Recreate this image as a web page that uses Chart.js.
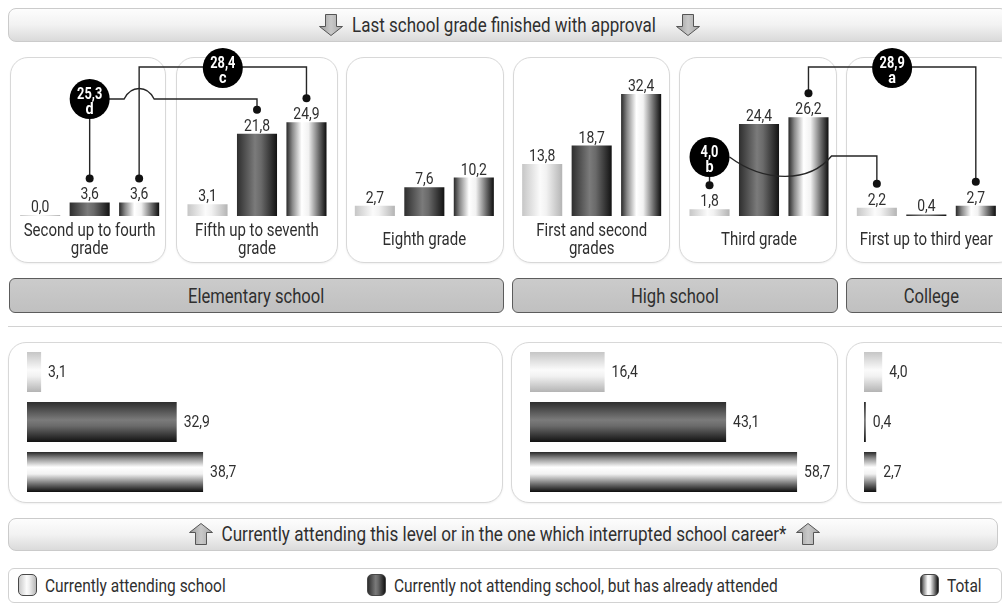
<!DOCTYPE html>
<html>
<head>
<meta charset="utf-8">
<title>Last school grade finished with approval</title>
<script src="https://cdn.jsdelivr.net/npm/chart.js@4.4.1/dist/chart.umd.min.js"></script>
<style>
  body { margin:0; width:1002px; height:616px; overflow:hidden; position:relative; background:#fff;
         font-family:Roboto,'Liberation Sans',sans-serif; color:#2f2f2f; }
  .box { position:absolute; box-sizing:border-box; }
  .banner { height:34px; border:1px solid #cbcbcb; border-radius:8px;
            background:linear-gradient(#fdfdfd,#f2f2f2 50%,#dadada); }
  .banner .arrow { position:absolute; top:5px; }
  .banner .title { position:absolute; top:0; line-height:32px; white-space:nowrap; font-size:21px;
                   transform:translateX(-50%) scaleX(.81); }
  .panel { border:1px solid #d8d8d8; border-radius:18px; background:#fff; box-shadow:0 1px 2px rgba(0,0,0,.06); }
  .band { top:278px; height:35px; border:1px solid #5c5c5c; border-radius:6px;
          background:linear-gradient(#cbcbcb,#c0c0c0);
          display:flex; align-items:center; justify-content:center; font-size:20px; }
  .band span { display:inline-block; transform:scaleX(.83); white-space:nowrap; }
  .rule { left:8px; top:326px; width:994px; height:1px; background:#d2d2d2; }
  canvas { position:absolute; }
  .arrow { width:26px; height:22px; }
  .legend { left:8px; top:568px; width:994px; height:35px; border:1px solid #d2d2d2; border-radius:6px; background:#fff; }
  .key { position:absolute; top:5px; height:22px; display:flex; align-items:center; font-size:19px; white-space:nowrap; }
  .key span { display:inline-block; transform:scaleX(.815); transform-origin:0 50%; }
  .swatch { width:19px; height:22px; border:1.3px solid #484848; border-radius:5px; margin-right:8px; box-sizing:border-box; flex:none; }
</style>
</head>
<body>
<svg width="0" height="0" style="position:absolute">
  <defs>
    <linearGradient id="arrowFill" x1="0" x2="1" y1="0" y2="0">
      <stop offset="0" stop-color="#9a9a9a"/><stop offset="0.5" stop-color="#c9c9c9"/><stop offset="1" stop-color="#a6a6a6"/>
    </linearGradient>
  </defs>
</svg>

<div class="box banner" style="left:8px;top:8px;width:1000px;">
  <svg class="arrow" style="left:309px" viewBox="0 0 26 22"><path d="M7.5 0.5H18.5V12.5H24.5L13 21.5L1.5 12.5H7.5Z" fill="url(#arrowFill)" stroke="#555" stroke-width="1"/></svg>
  <span class="title" style="left:494.5px">Last school grade finished with approval</span>
  <svg class="arrow" style="left:666px" viewBox="0 0 26 22"><path d="M7.5 0.5H18.5V12.5H24.5L13 21.5L1.5 12.5H7.5Z" fill="url(#arrowFill)" stroke="#555" stroke-width="1"/></svg>
</div>

<div class="box panel" style="left:10px;top:57px;width:156px;height:206px"></div>
<div class="box panel" style="left:176px;top:57px;width:162px;height:206px"></div>
<div class="box panel" style="left:346px;top:57px;width:158px;height:206px"></div>
<div class="box panel" style="left:513px;top:57px;width:157px;height:206px"></div>
<div class="box panel" style="left:679px;top:57px;width:158px;height:206px"></div>
<div class="box panel" style="left:846px;top:57px;width:170px;height:206px"></div>

<div class="box band" style="left:9px;width:495px"><span id="band0"></span></div>
<div class="box band" style="left:512px;width:326px"><span id="band1"></span></div>
<div class="box band" style="left:846px;width:170px"><span id="band2"></span></div>
<div class="box rule"></div>

<div class="box panel" style="left:8px;top:342px;width:495px;height:161px"></div>
<div class="box panel" style="left:511px;top:342px;width:327px;height:161px"></div>
<div class="box panel" style="left:846px;top:342px;width:170px;height:161px"></div>

<div class="box banner" style="left:8px;top:518px;width:990px;height:33px;">
  <svg class="arrow" style="left:179px;top:4px" viewBox="0 0 26 22"><path d="M7.5 21.5H18.5V9.5H24.5L13 0.5L1.5 9.5H7.5Z" fill="url(#arrowFill)" stroke="#555" stroke-width="1"/></svg>
  <span class="title" style="left:494.5px;line-height:31px;font-size:20px;transform:translateX(-50%) scaleX(.855)">Currently attending this level or in the one which interrupted school career*</span>
  <svg class="arrow" style="left:786px;top:4px" viewBox="0 0 26 22"><path d="M7.5 21.5H18.5V9.5H24.5L13 0.5L1.5 9.5H7.5Z" fill="url(#arrowFill)" stroke="#555" stroke-width="1"/></svg>
</div>

<div class="box legend">
  <div class="key" style="left:9px"><div class="swatch" style="background:linear-gradient(90deg,#c8c8c8,#fbfbfb 45%,#f0f0f0 60%,#b8b8b8)"></div><span id="key0"></span></div>
  <div class="key" style="left:358px"><div class="swatch" style="background:linear-gradient(90deg,#303030,#7a7a7a 45%,#686868 60%,#141414)"></div><span id="key1"></span></div>
  <div class="key" style="left:911px"><div class="swatch" style="background:linear-gradient(90deg,#2a2a2a,#8a8a8a 15%,#fff 40%,#f0f0f0 55%,#6a6a6a 82%,#111)"></div><span id="key2"></span></div>
</div>

<canvas id="grades" width="1012" height="270" style="left:0;top:0"></canvas>
<canvas id="level0" width="470" height="150" style="left:27px;top:347px"></canvas>
<canvas id="level1" width="320" height="150" style="left:530px;top:347px"></canvas>
<canvas id="level2" width="140" height="150" style="left:864px;top:347px"></canvas>

<script>
// Last school grade finished with approval (percent), one entry per grade group
const gradeLabels = [
  ['Second up to fourth', 'grade'],
  ['Fifth up to seventh', 'grade'],
  ['Eighth grade'],
  ['First and second', 'grades'],
  ['Third grade'],
  ['First up to third year']
];
const attendingByGrade    = [0.0, 3.1, 2.7, 13.8, 1.8, 2.2];
const notAttendingByGrade = [3.6, 21.8, 7.6, 18.7, 24.4, 0.4];
const totalByGrade        = [3.6, 24.9, 10.2, 32.4, 26.2, 2.7];

// Level currently attended, or the one in which school career was interrupted (percent)
const levelNames          = ['Elementary school', 'High school', 'College'];
const attendingByLevel    = [3.1, 16.4, 4.0];
const notAttendingByLevel = [32.9, 43.1, 0.4];
const totalByLevel        = [38.7, 58.7, 2.7];

const seriesNames = [
  'Currently attending school',
  'Currently not attending school, but has already attended',
  'Total'
];

// Sums bridging two neighbouring grade groups of the same series
const bridgeValues  = [25.3, 28.4, 4.0, 28.9];
const bridgeLetters = ['d', 'c', 'b', 'a'];
const bridgeSeries  = [1, 2, 0, 2];
const bridgeFrom    = [0, 0, 4, 4];
const bridgeTo      = [1, 1, 5, 5];

// ---- drawing ----
const FONT = "Roboto,'Liberation Sans',sans-serif";
const TEXT = '#2f2f2f';
Chart.defaults.font.family = FONT;

levelNames.forEach((n, i) => document.getElementById('band' + i).textContent = n);
seriesNames.forEach((n, i) => document.getElementById('key' + i).textContent = n);

const fmt = v => v.toFixed(1).replace('.', ',');

// narrow lettering: text squeezed horizontally around its anchor
function narrowText(ctx, text, x, y, sx) {
  ctx.save();
  ctx.translate(x, y);
  ctx.scale(sx, 1);
  ctx.fillText(text, 0, 0);
  ctx.restore();
}

// cylinder-like shading for each series
const ramps = [
  [[0, '#c6c6c6'], [0.45, '#fbfbfb'], [0.6, '#f2f2f2'], [1, '#b4b4b4']],
  [[0, '#2e2e2e'], [0.45, '#7b7b7b'], [0.6, '#6a6a6a'], [1, '#121212']],
  [[0, '#282828'], [0.15, '#8a8a8a'], [0.38, '#ffffff'], [0.55, '#f2f2f2'], [0.82, '#666666'], [1, '#0d0d0d']]
];

const shadePlugin = {
  id: 'shade',
  beforeDatasetsDraw(chart) {
    const ctx = chart.ctx;
    const horizontal = chart.options.indexAxis === 'y';
    chart.data.datasets.forEach((ds, di) => {
      chart.getDatasetMeta(di).data.forEach((el, i) => {
        const ramp = ramps[horizontal ? i : di];
        const p = el.getProps(['x', 'y', 'width', 'height'], true);
        const g = horizontal
          ? ctx.createLinearGradient(0, p.y - p.height / 2, 0, p.y + p.height / 2)
          : ctx.createLinearGradient(p.x - p.width / 2, 0, p.x + p.width / 2, 0);
        ramp.forEach(([o, c]) => g.addColorStop(o, c));
        el.options.backgroundColor = g;
      });
    });
  }
};

// value labels above columns and grade names under each group
const gradeTextPlugin = {
  id: 'gradeText',
  afterDatasetsDraw(chart) {
    const ctx = chart.ctx;
    ctx.save();
    ctx.fillStyle = TEXT;
    ctx.textAlign = 'center';
    ctx.font = '17px ' + FONT;
    ctx.textBaseline = 'alphabetic';
    chart.data.datasets.forEach((ds, di) => {
      chart.getDatasetMeta(di).data.forEach((el, i) => {
        narrowText(ctx, fmt(ds.data[i]), el.x, el.y - 3, 0.82);
      });
    });
    ctx.font = '19px ' + FONT;
    ctx.textBaseline = 'middle';
    const xs = chart.scales.x;
    const mid = chart.chartArea.bottom + 24;
    chart.data.labels.forEach((lines, i) => {
      const x = xs.getPixelForValue(i);
      lines.forEach((t, j) => narrowText(ctx, t, x, mid + (j - (lines.length - 1) / 2) * 18, 0.79));
    });
    ctx.restore();
  }
};

// connectors and black badges carrying the bridged sums
const bridgeStyle = [
  { badge: 'from',   lineY: 99 },
  { badge: 'middle', lineY: 67 },
  { badge: 'from',   lineY: 157, wave: true },
  { badge: 'middle', lineY: 67 }
];
const BADGE_R = 20, DOT_GAP = 24;

const bridgePlugin = {
  id: 'bridges',
  afterDatasetsDraw(chart) {
    const ctx = chart.ctx;
    const ends = bridgeValues.map((v, k) => {
      const meta = chart.getDatasetMeta(bridgeSeries[k]);
      const a = meta.data[bridgeFrom[k]], b = meta.data[bridgeTo[k]];
      return { ax: a.x, ay: a.y - DOT_GAP, bx: b.x, by: b.y - DOT_GAP };
    });
    // vertical drops of centred-badge connectors, used for line hops
    const drops = [];
    ends.forEach((e, k) => {
      if (bridgeStyle[k].badge === 'middle') {
        drops.push({ x: e.ax, y0: bridgeStyle[k].lineY, y1: e.ay });
        drops.push({ x: e.bx, y0: bridgeStyle[k].lineY, y1: e.by });
      }
    });
    ctx.save();
    ctx.strokeStyle = '#262626';
    ctx.lineWidth = 1.4;
    const badges = [];
    ends.forEach((e, k) => {
      const st = bridgeStyle[k];
      const y = st.lineY;
      ctx.beginPath();
      ctx.moveTo(e.ax, e.ay);
      ctx.lineTo(e.ax, y);
      if (st.badge === 'from') {
        badges.push([e.ax, y]);
        let x = e.ax;
        if (st.wave) {
          const x0 = e.ax + BADGE_R, x1 = x0 + 102;
          ctx.moveTo(x0, y);
          ctx.bezierCurveTo(x0 + 35, y + 26, x0 + 80, y + 26, x1, y - 1);
          x = x1;
        }
        drops.filter(d => d.x > x && d.x < e.bx && y > d.y0 && y < d.y1)
          .sort((p, q) => p.x - q.x)
          .forEach(d => {
            ctx.lineTo(d.x - 15, y);
            ctx.bezierCurveTo(d.x - 8, y - 14, d.x + 8, y - 14, d.x + 15, y);
          });
        const yy = st.wave ? y - 1 : y;
        ctx.lineTo(e.bx, yy);
        ctx.lineTo(e.bx, e.by);
      } else {
        badges.push([(e.ax + e.bx) / 2, y + 1]);
        ctx.lineTo(e.bx, y);
        ctx.lineTo(e.bx, e.by);
      }
      ctx.stroke();
      ctx.fillStyle = '#111';
      [[e.ax, e.ay], [e.bx, e.by]].forEach(([px, py]) => {
        ctx.beginPath(); ctx.arc(px, py, 4, 0, Math.PI * 2); ctx.fill();
      });
    });
    badges.forEach(([cx, cy], k) => {
      ctx.fillStyle = '#000';
      ctx.beginPath(); ctx.arc(cx, cy, BADGE_R, 0, Math.PI * 2); ctx.fill();
      ctx.fillStyle = '#fff';
      ctx.textAlign = 'center';
      ctx.textBaseline = 'middle';
      ctx.font = 'bold 16px ' + FONT;
      narrowText(ctx, fmt(bridgeValues[k]), cx, cy - 4, 0.8);
      narrowText(ctx, bridgeLetters[k], cx, cy + 11, 0.9);
    });
    ctx.restore();
  }
};

const flat = () => '#999';

new Chart(document.getElementById('grades'), {
  type: 'bar',
  data: {
    labels: gradeLabels,
    datasets: [
      { label: seriesNames[0], data: attendingByGrade, backgroundColor: flat },
      { label: seriesNames[1], data: notAttendingByGrade, backgroundColor: flat },
      { label: seriesNames[2], data: totalByGrade, backgroundColor: flat }
    ]
  },
  options: {
    responsive: false,
    animation: false,
    devicePixelRatio: 1,
    layout: { padding: { left: 6, right: 2, top: 60, bottom: 54 } },
    datasets: { bar: { categoryPercentage: 0.887, barPercentage: 0.81, minBarLength: 1, borderWidth: 0 } },
    scales: {
      x: { display: false },
      y: { display: false, min: 0, max: 41.4 }
    },
    plugins: { legend: { display: false }, tooltip: { enabled: false } },
    events: []
  },
  plugins: [shadePlugin, gradeTextPlugin, bridgePlugin]
});

// value labels to the right of each horizontal bar
const levelTextPlugin = {
  id: 'levelText',
  afterDatasetsDraw(chart) {
    const ctx = chart.ctx;
    ctx.save();
    ctx.fillStyle = TEXT;
    ctx.font = '17px ' + FONT;
    ctx.textAlign = 'left';
    ctx.textBaseline = 'middle';
    const ds = chart.data.datasets[0];
    chart.getDatasetMeta(0).data.forEach((el, i) => narrowText(ctx, fmt(ds.data[i]), el.x + 7, el.y + 1, 0.82));
    ctx.restore();
  }
};

const PX_PER_POINT = 4.55;
levelNames.forEach((_, k) => {
  const canvas = document.getElementById('level' + k);
  new Chart(canvas, {
    type: 'bar',
    data: {
      labels: seriesNames,
      datasets: [{
        label: levelNames[k],
        data: [attendingByLevel[k], notAttendingByLevel[k], totalByLevel[k]],
        backgroundColor: flat
      }]
    },
    options: {
      indexAxis: 'y',
      responsive: false,
      animation: false,
      devicePixelRatio: 1,
      layout: { padding: 0 },
      datasets: { bar: { categoryPercentage: 1, barPercentage: 0.8, minBarLength: 1, borderWidth: 0 } },
      scales: {
        x: { display: false, min: 0, max: canvas.width / PX_PER_POINT },
        y: { display: false }
      },
      plugins: { legend: { display: false }, tooltip: { enabled: false } },
      events: []
    },
    plugins: [shadePlugin, levelTextPlugin]
  });
});
</script>
</body>
</html>
